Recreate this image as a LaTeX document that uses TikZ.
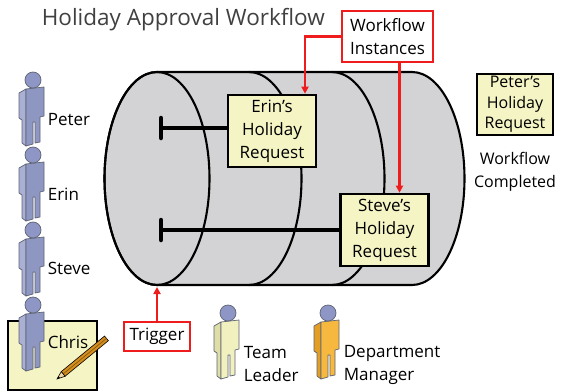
\documentclass[tikz,border=0pt]{standalone}
\usepackage{fontspec}
\setmainfont{Open Sans}
\usetikzlibrary{arrows.meta}

\definecolor{titlegray}{HTML}{404040}
\definecolor{cylgray}{HTML}{D3D3D6}
\definecolor{notepaper}{HTML}{F5F4C4}
\definecolor{markred}{HTML}{EE1C1C}
\definecolor{staffblue}{HTML}{8E97C2}
\definecolor{staffshade}{HTML}{A9B0D4}
\definecolor{headblue}{HTML}{8D96C4}
\definecolor{staffline}{HTML}{5E6374}
\definecolor{leaderyellow}{HTML}{F1F1C0}
\definecolor{leadershade}{HTML}{DEDEA6}
\definecolor{managerorange}{HTML}{F6B83E}
\definecolor{managershade}{HTML}{E39E26}
\definecolor{pencilwood}{HTML}{F3D9A8}
\definecolor{pencilbody}{HTML}{D58E1E}

% little staff figure, head centre at #1,#2; front colour #3, side colour #4
\newcommand{\staff}[4]{%
  \begin{scope}[shift={(#1,#2)}, draw=staffline, line width=0.7pt, line join=round]
    \filldraw[fill=#4] (-14,13) -- (-7,9) -- (-7,66) -- (-11,63) -- (-11,40) -- (-14,38) -- cycle;
    \filldraw[fill=#3] (-7,9) -- (11,7) -- (11,36) -- (7,37) -- (7,62) -- (2,63) -- (2,42) -- (0,42) -- (0,64) -- (-7,66) -- cycle;
    \filldraw[fill=headblue] (0,0) circle (8);
  \end{scope}}

\begin{document}
\begin{tikzpicture}[x=1pt, y=-1pt, line width=1pt,
  every node/.style={font=\fontsize{17}{23}\selectfont},
  request/.style={draw=black, line width=2.6pt, fill=notepaper, align=center, inner sep=1pt, minimum width=88, minimum height=72},
  callout/.style={draw=markred, line width=2.8pt, fill=white, align=center, inner sep=1pt},
  flag/.style={draw=markred, line width=2.5pt, -{Triangle[length=7pt,width=7pt]}},
  bar/.style={line width=4.5pt}]
  \useasboundingbox (0,0) rectangle (565,391);

  \node[anchor=west, font=\fontsize{22.5}{26}\selectfont, text=titlegray] (title) at (38,20) {Holiday Approval Workflow};

  % the workflow barrel: outline, front face, and the rings behind it
  \filldraw[fill=cylgray, line width=2.1pt] (157,72) -- (412,72) arc[start angle=-90, end angle=90, x radius=52.5, y radius=106.5]
    -- (157,285) arc[start angle=90, end angle=270, x radius=52.5, y radius=106.5] -- cycle;
  \foreach \cx in {249,332} \draw[line width=2.1pt] (\cx,72) arc[start angle=-90, end angle=90, x radius=52.5, y radius=106.5];
  \draw[line width=2.1pt] (157,178.5) ellipse [x radius=52.5, y radius=106.5];
  \coordinate (base) at (157,287);

  % running instances
  \coordinate (tabE) at (161,128);
  \coordinate (tabS) at (161,230);
  \node[request] (erin) at (272,131) {Erin’s\\Holiday\\Request};
  \node[request] (steve) at (384.5,230) {Steve’s\\Holiday\\Request};
  \draw[bar] (tabE) -- (tabE -| erin.west);
  \draw[bar] (tabS) -- (tabS -| steve.west);
  \draw[bar, line cap=round] (161,118) -- (161,138);
  \draw[bar, line cap=round] (161,220) -- (161,240);

  \node[callout, minimum width=91, minimum height=51] (inst) at (387.5,36.5) {Workflow\\Instances};
  \draw[flag] (inst.west) -| ([xshift=33pt]erin.north);
  \draw[flag] ([xshift=12pt]inst.south) -- ([xshift=12pt]inst.south |- steve.north);

  \node[callout, minimum width=66, minimum height=29] (trig) at (157,336.5) {Trigger};
  \draw[flag] (trig.north) -- (base);

  % finished request
  \node[request, minimum width=76, minimum height=61, font=\fontsize{16}{20.5}\selectfont] (peterreq) at (515,104.5) {Peter’s\\Holiday\\Request};
  \node[align=center, font=\fontsize{16}{23}\selectfont] (done) at (515,171.5) {Workflow\\Completed};

  % employees
  \filldraw[fill=notepaper, line width=2.2pt] (8,321) rectangle (97,390);
  \staff{33}{80}{staffblue}{staffshade}
  \staff{33}{155}{staffblue}{staffshade}
  \staff{33}{230}{staffblue}{staffshade}
  \staff{33}{305}{staffblue}{staffshade}
  \node[anchor=west] (peter) at (44,120) {Peter};
  \node[anchor=west] (erinlbl) at (44,194) {Erin};
  \node[anchor=west] (stevelbl) at (44,268) {Steve};
  \node[anchor=west] (chris) at (44,342) {Chris};

  % pencil on Chris' form
  \begin{scope}[shift={(57,379)}, rotate=39.4, line width=0.6pt]
    \filldraw[fill=pencilbody] (8,-3) rectangle (64,3);
    \draw[pencilbody!60!black] (8,0) -- (64,0);
    \filldraw[fill=pencilwood] (0,0) -- (8,-3) -- (8,3) -- cycle;
    \fill (0,0) -- (3,-1.1) -- (3,1.1) -- cycle;
  \end{scope}

  % approvers
  \staff{228}{313}{leaderyellow}{leadershade}
  \staff{328}{313}{managerorange}{managershade}
  \node[anchor=west, align=left] (leader) at (240,364.5) {Team\\Leader};
  \node[anchor=west, align=left] (manager) at (340,364.5) {Department\\Manager};
\end{tikzpicture}
\end{document}
